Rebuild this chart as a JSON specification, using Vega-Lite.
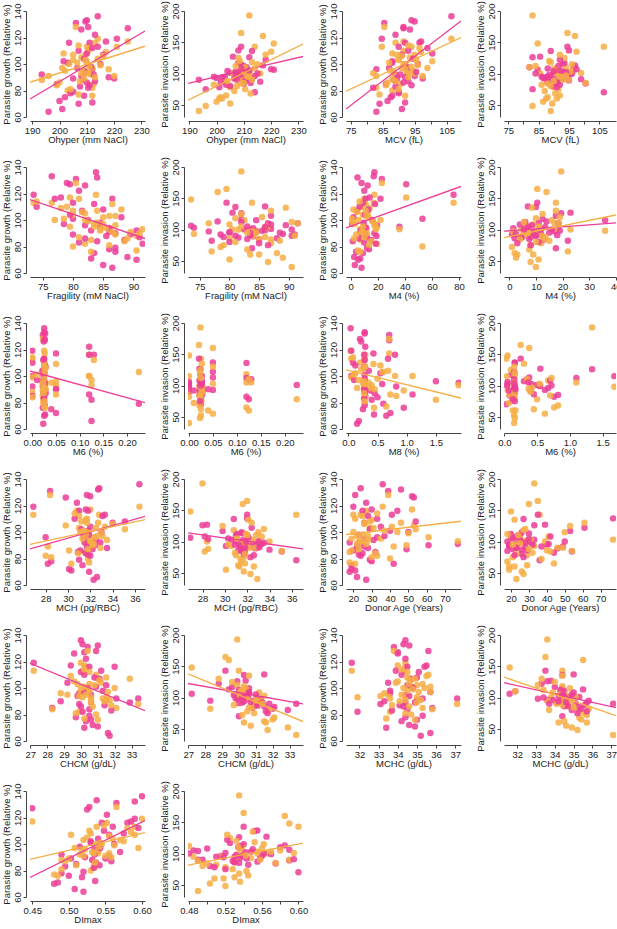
{
  "$schema": "https://vega.github.io/schema/vega-lite/v6.json",
  "padding": {"left": 0, "top": 0, "right": 0, "bottom": 0},
  "config": {
    "view": {"stroke": null},
    "font": "Liberation Sans",
    "circle": {"size": 42, "opacity": 0.85},
    "rule": {"strokeWidth": 1.3},
    "axis": {
      "labelFont": "Liberation Sans", "titleFont": "Liberation Sans",
      "labelFontSize": 9.5, "titleFontSize": 9.5, "titleFontWeight": "normal",
      "labelColor": "#222222", "titleColor": "#222222",
      "domainColor": "#444444", "tickColor": "#444444", "tickSize": 3,
      "grid": false, "offset": 4, "labelFlush": false, "labelOverlap": false
    },
    "axisX": {"labelPadding": 1, "titlePadding": 0},
    "axisY": {"labelAngle": -90, "labelAlign": "center", "labelBaseline": "bottom", "labelPadding": 1, "titlePadding": 1}
  },
  "datasets": {
    "donors": [
      {"oh":214,"mcv":106.5,"fr":83.8,"m4":17.5,"m6":0.025,"m8":0.04,"m8i":0.03,"mch":36.4,"age":36,"chcm":30.0,"mchc":34.4,"di":0.600,"gP":136,"gO":119,"iP":70,"iO":143},
      {"oh":221,"mcv":84.7,"fr":73.5,"m4":76,"m6":0.0,"m8":0.05,"m8i":0.05,"mch":26.9,"age":20,"chcm":27.2,"mchc":31.6,"di":0.590,"gP":119,"gO":113,"iP":106,"iO":148},
      {"oh":225,"mcv":91.5,"fr":79.5,"m4":41,"m6":0.026,"m8":0.70,"m8i":0.60,"mch":32.0,"age":52,"chcm":30.2,"mchc":34.0,"di":0.450,"gP":127,"gO":117,"iP":null,"iO":null},
      {"oh":212,"mcv":83,"fr":82,"m4":19.5,"m6":0.024,"m8":1.5,"m8i":1.34,"mch":28.0,"age":33,"chcm":29.9,"mchc":33.6,"di":0.535,"gP":96,"gO":82,"iP":126,"iO":193},
      {"oh":209,"mcv":93,"fr":84.5,"m4":36,"m6":0.027,"m8":1.89,"m8i":1.68,"mch":31.5,"age":26,"chcm":30.6,"mchc":34.4,"di":0.540,"gP":95,"gO":93,"iP":115,"iO":98},
      {"oh":193.5,"mcv":89,"fr":90.5,"m4":10,"m6":0.0,"m8":0.28,"m8i":0.15,"mch":32.9,"age":23,"chcm":33.4,"mchc":37.1,"di":0.490,"gP":92,"gO":88,"iP":90,"iO":40},
      {"oh":208,"mcv":95,"fr":86,"m4":7,"m6":0.05,"m8":0.28,"m8i":0.16,"mch":32.0,"age":77,"chcm":31.5,"mchc":35.0,"di":0.555,"gP":91,"gO":93,"iP":137,"iO":103},
      {"oh":205,"mcv":90,"fr":87,"m4":12,"m6":0.225,"m8":0.6,"m8i":0.5,"mch":31.0,"age":29,"chcm":30.5,"mchc":35.3,"di":0.520,"gP":79,"gO":103,"iP":101,"iO":78},
      {"oh":203,"mcv":88,"fr":80,"m4":53,"m6":0.023,"m8":0.28,"m8i":0.15,"mch":31.8,"age":40,"chcm":30.9,"mchc":34.7,"di":0.530,"gP":101,"gO":80,"iP":95,"iO":86},
      {"oh":210,"mcv":94,"fr":76.5,"m4":17,"m6":0.025,"m8":0.28,"m8i":0.15,"mch":32.8,"age":24,"chcm":30.1,"mchc":34.3,"di":0.538,"gP":133,"gO":113,"iP":97,"iO":110},
      {"oh":209.5,"mcv":95,"fr":84,"m4":5,"m6":0.027,"m8":0.28,"m8i":0.16,"mch":32.7,"age":46,"chcm":31.0,"mchc":34.6,"di":0.590,"gP":132,"gO":107,"iP":89,"iO":90},
      {"oh":206,"mcv":85.5,"fr":80.5,"m4":23,"m6":0.022,"m8":0.70,"m8i":0.55,"mch":28.4,"age":39,"chcm":30.4,"mchc":33.8,"di":0.565,"gP":131,"gO":128,"iP":127,"iO":100},
      {"oh":210.5,"mcv":91.5,"fr":79,"m4":8,"m6":0.026,"m8":0.20,"m8i":0.12,"mch":31.7,"age":21,"chcm":30.9,"mchc":35.6,"di":0.528,"gP":128,"gO":110,"iP":88,"iO":75},
      {"oh":208,"mcv":93.5,"fr":82,"m4":12.5,"m6":0.024,"m8":0.22,"m8i":0.10,"mch":29.8,"age":53,"chcm":29.6,"mchc":34.0,"di":0.525,"gP":126,"gO":105,"iP":117,"iO":125},
      {"oh":213,"mcv":89,"fr":81,"m4":10,"m6":0.12,"m8":0.29,"m8i":0.16,"mch":30.8,"age":27,"chcm":30.3,"mchc":34.4,"di":0.552,"gP":122,"gO":116,"iP":136,"iO":118},
      {"oh":217,"mcv":97,"fr":78,"m4":14,"m6":0.05,"m8":0.43,"m8i":0.38,"mch":31.6,"age":30,"chcm":29.4,"mchc":35.5,"di":0.585,"gP":117,"gO":109,"iP":113,"iO":160},
      {"oh":203.5,"mcv":92,"fr":77,"m4":22,"m6":0.12,"m8":0.8,"m8i":0.76,"mch":31.8,"age":44,"chcm":32.0,"mchc":35.4,"di":0.545,"gP":116,"gO":100,"iP":82,"iO":65},
      {"oh":211,"mcv":96.5,"fr":86.5,"m4":11,"m6":0.13,"m8":0.27,"m8i":0.15,"mch":31.0,"age":25,"chcm":30.5,"mchc":34.5,"di":0.580,"gP":116,"gO":112,"iP":110,"iO":105},
      {"oh":214,"mcv":90,"fr":80,"m4":9,"m6":0.025,"m8":0.68,"m8i":0.67,"mch":33.3,"age":41,"chcm":31.2,"mchc":33.9,"di":0.560,"gP":113,"gO":104,"iP":96,"iO":108},
      {"oh":212,"mcv":99,"fr":83.5,"m4":18,"m6":0.023,"m8":0.28,"m8i":0.14,"mch":33.1,"age":28,"chcm":30.0,"mchc":35.1,"di":0.595,"gP":112,"gO":97,"iP":91,"iO":101},
      {"oh":207,"mcv":93,"fr":74,"m4":6.5,"m6":0.0,"m8":0.08,"m8i":0.05,"mch":30.6,"age":33,"chcm":30.2,"mchc":34.2,"di":0.548,"gP":110,"gO":114,"iP":103,"iO":93},
      {"oh":210,"mcv":100.5,"fr":85,"m4":13,"m6":0.026,"m8":0.12,"m8i":0.08,"mch":35.1,"age":54,"chcm":30.8,"mchc":35.0,"di":0.575,"gP":108,"gO":102,"iP":84,"iO":85},
      {"oh":216,"mcv":91,"fr":81.5,"m4":4.5,"m6":0.028,"m8":0.28,"m8i":0.15,"mch":34.0,"age":26,"chcm":31.1,"mchc":34.7,"di":0.555,"gP":107,"gO":106,"iP":87,"iO":100},
      {"oh":209,"mcv":94.5,"fr":79.5,"m4":10.5,"m6":0.021,"m8":0.35,"m8i":0.25,"mch":32.0,"age":35,"chcm":29.2,"mchc":33.5,"di":0.540,"gP":104,"gO":95,"iP":143,"iO":165},
      {"oh":201.5,"mcv":88,"fr":88,"m4":2,"m6":0.025,"m8":0.55,"m8i":0.45,"mch":31.2,"age":29,"chcm":31.5,"mchc":34.5,"di":0.530,"gP":102,"gO":108,"iP":86,"iO":62},
      {"oh":215,"mcv":96,"fr":82.5,"m4":16,"m6":0.0,"m8":0.05,"m8i":0.04,"mch":33.0,"age":50,"chcm":30.4,"mchc":34.8,"di":0.562,"gP":100,"gO":99,"iP":100,"iO":115},
      {"oh":211.5,"mcv":92.5,"fr":84.5,"m4":9.5,"m6":0.024,"m8":0.28,"m8i":0.16,"mch":31.9,"age":23,"chcm":31.3,"mchc":33.6,"di":0.515,"gP":98,"gO":92,"iP":96,"iO":95},
      {"oh":206.5,"mcv":87,"fr":78.5,"m4":1,"m6":0.01,"m8":0.1,"m8i":0.07,"mch":31.4,"age":37,"chcm":30.2,"mchc":35.7,"di":0.543,"gP":97,"gO":101,"iP":92,"iO":72},
      {"oh":209.5,"mcv":95.5,"fr":86,"m4":11.5,"m6":0.026,"m8":0.58,"m8i":0.54,"mch":32.5,"age":31,"chcm":29.8,"mchc":34.6,"di":0.570,"gP":94,"gO":103,"iP":99,"iO":103},
      {"oh":212.5,"mcv":90.5,"fr":83,"m4":7.5,"m6":0.022,"m8":0.82,"m8i":0.82,"mch":31.5,"age":18,"chcm":32.1,"mchc":35.3,"di":0.535,"gP":92,"gO":85,"iP":85,"iO":68},
      {"oh":218,"mcv":92,"fr":87,"m4":17.5,"m6":0.05,"m8":0.27,"m8i":0.15,"mch":32.4,"age":61,"chcm":28.8,"mchc":33.3,"di":0.522,"gP":90,"gO":96,"iP":122,"iO":130},
      {"oh":220,"mcv":97.5,"fr":89.5,"m4":8.5,"m6":0.027,"m8":0.38,"m8i":0.30,"mch":32.1,"age":22,"chcm":30.6,"mchc":34.4,"di":0.550,"gP":89,"gO":91,"iP":107,"iO":135},
      {"oh":205,"mcv":89.5,"fr":80,"m4":11,"m6":0.025,"m8":0.29,"m8i":0.15,"mch":31.7,"age":26,"chcm":32.9,"mchc":34.9,"di":0.503,"gP":89,"gO":107,"iP":80,"iO":52},
      {"oh":208.5,"mcv":88.5,"fr":85.5,"m4":19,"m6":0.023,"m8":0.28,"m8i":0.16,"mch":33.5,"age":28,"chcm":29.9,"mchc":33.1,"di":0.532,"gP":88,"gO":94,"iP":98,"iO":120},
      {"oh":213,"mcv":93,"fr":91,"m4":12,"m6":0.028,"m8":0.45,"m8i":0.40,"mch":32.2,"age":49,"chcm":31.4,"mchc":34.1,"di":0.558,"gP":87,"gO":90,"iP":92,"iO":90},
      {"oh":210,"mcv":91.5,"fr":82,"m4":6,"m6":0.12,"m8":1.1,"m8i":1.1,"mch":31.1,"age":20,"chcm":30.0,"mchc":34.3,"di":0.537,"gP":86,"gO":100,"iP":112,"iO":105},
      {"oh":199,"mcv":86,"fr":88.5,"m4":15,"m6":0.0,"m8":0.29,"m8i":0.15,"mch":30.9,"age":32,"chcm":28.3,"mchc":35.8,"di":0.510,"gP":85,"gO":84,"iP":95,"iO":82},
      {"oh":211,"mcv":94,"fr":84,"m4":1.5,"m6":0.025,"m8":0.5,"m8i":0.42,"mch":31.6,"age":25,"chcm":30.5,"mchc":34.5,"di":0.542,"gP":84,"gO":98,"iP":102,"iO":97},
      {"oh":207.5,"mcv":89,"fr":81,"m4":10,"m6":0.024,"m8":0.27,"m8i":0.14,"mch":31.8,"age":23,"chcm":31.8,"mchc":33.7,"di":0.495,"gP":83,"gO":87,"iP":90,"iO":80},
      {"oh":210.5,"mcv":82,"fr":91.5,"m4":18.5,"m6":0.125,"m8":0.4,"m8i":0.35,"mch":32.0,"age":24,"chcm":30.1,"mchc":31.9,"di":0.534,"gP":82,"gO":93,"iP":110,"iO":110},
      {"oh":204,"mcv":90,"fr":86,"m4":13.5,"m6":0.026,"m8":0.28,"m8i":0.15,"mch":28.5,"age":30,"chcm":29.7,"mchc":34.4,"di":0.490,"gP":78,"gO":81,"iP":104,"iO":88},
      {"oh":209,"mcv":88,"fr":87,"m4":4,"m6":0.022,"m8":0.95,"m8i":0.70,"mch":28.2,"age":42,"chcm":30.6,"mchc":35.0,"di":0.500,"gP":76,"gO":89,"iP":108,"iO":84},
      {"oh":202,"mcv":87.5,"fr":83.5,"m4":9,"m6":0.04,"m8":0.25,"m8i":0.17,"mch":31.3,"age":19,"chcm":30.3,"mchc":34.2,"di":0.518,"gP":75,"gO":95,"iP":94,"iO":60},
      {"oh":200,"mcv":86.5,"fr":89,"m4":2.5,"m6":0.05,"m8":0.72,"m8i":0.62,"mch":30.1,"age":19,"chcm":30.7,"mchc":34.6,"di":0.536,"gP":72,"gO":86,"iP":93,"iO":55},
      {"oh":212,"mcv":92,"fr":83,"m4":7,"m6":0.027,"m8":0.44,"m8i":0.37,"mch":30.3,"age":21,"chcm":31.0,"mchc":34.9,"di":0.485,"gP":71,"gO":76,"iP":105,"iO":95},
      {"oh":207,"mcv":84,"fr":90.5,"m4":5.5,"m6":0.025,"m8":0.65,"m8i":0.72,"mch":31.9,"age":18,"chcm":30.2,"mchc":33.4,"di":0.480,"gP":70,"gO":77,"iP":100,"iO":112},
      {"oh":201,"mcv":91,"fr":85,"m4":3,"m6":0.125,"m8":0.18,"m8i":0.13,"mch":32.6,"age":22,"chcm":31.6,"mchc":35.7,"di":0.508,"gP":66,"gO":97,"iP":78,"iO":60},
      {"oh":196,"mcv":83,"fr":86.5,"m4":8,"m6":0.023,"m8":0.15,"m8i":0.16,"mch":32.3,"age":27,"chcm":31.7,"mchc":35.2,"di":0.520,"gP":64,"gO":91,"iP":75,"iO":48}
    ],
    "fits": [
      {"p":"oh_g","grp":"gP","x1":189.2,"y1":73.6,"x2":231.3,"y2":124.9},
      {"p":"oh_g","grp":"gO","x1":189.2,"y1":86.2,"x2":231.3,"y2":113.4},
      {"p":"oh_i","grp":"iP","x1":189.5,"y1":84.2,"x2":231.7,"y2":127.2},
      {"p":"oh_i","grp":"iO","x1":189.5,"y1":57.3,"x2":231.7,"y2":147.2},
      {"p":"mcv_g","grp":"gP","x1":73.5,"y1":66.0,"x2":109.5,"y2":132.5},
      {"p":"mcv_g","grp":"gO","x1":73.5,"y1":79.5,"x2":109.5,"y2":120.0},
      {"p":"fr_g","grp":"gP","x1":72.9,"y1":115.4,"x2":91.9,"y2":86.0},
      {"p":"m4_g","grp":"gP","x1":-3.5,"y1":94.1,"x2":81.5,"y2":125.3},
      {"p":"m4_i","grp":"iP","x1":-2,"y1":97.3,"x2":40.1,"y2":110.6},
      {"p":"m4_i","grp":"iO","x1":-2,"y1":87.0,"x2":40.1,"y2":123.2},
      {"p":"m6_g","grp":"gP","x1":-0.005,"y1":103.8,"x2":0.238,"y2":79.9},
      {"p":"m8_g","grp":"gO","x1":-0.04,"y1":104.6,"x2":1.93,"y2":83.4},
      {"p":"mch_g","grp":"gP","x1":26.6,"y1":87.2,"x2":36.9,"y2":111.8},
      {"p":"mch_g","grp":"gO","x1":26.6,"y1":90.7,"x2":36.9,"y2":109.4},
      {"p":"mch_i","grp":"iP","x1":26.7,"y1":113.9,"x2":37.0,"y2":88.2},
      {"p":"age_g","grp":"gO","x1":16.0,"y1":98.1,"x2":78.7,"y2":108.1},
      {"p":"chcm_g","grp":"gP","x1":26.98,"y1":118.6,"x2":33.8,"y2":82.9},
      {"p":"chcm_i","grp":"iP","x1":26.98,"y1":122.4,"x2":33.8,"y2":89.7},
      {"p":"chcm_i","grp":"iO","x1":26.98,"y1":137.9,"x2":33.8,"y2":61.5},
      {"p":"mchc_i","grp":"iP","x1":31.3,"y1":123.7,"x2":37.25,"y2":83.9},
      {"p":"mchc_i","grp":"iO","x1":31.3,"y1":132.7,"x2":37.25,"y2":70.8},
      {"p":"di_g","grp":"gP","x1":0.447,"y1":74.8,"x2":0.604,"y2":117.7},
      {"p":"di_g","grp":"gO","x1":0.447,"y1":88.4,"x2":0.604,"y2":108.6},
      {"p":"di_i","grp":"iO","x1":0.479,"y1":81.4,"x2":0.605,"y2":116.5}
    ]
  },
  "columns": 4,
  "spacing": {"row": 50, "column": 43},
  "bounds": "flush",
  "concat": [
      {"width":115,"height":106,"layer":[
        {"data":{"name":"donors"},"transform":[{"fold":["gP","gO"],"as":["grp","val"]}],"mark":{"type":"circle","clip":true},
         "encoding":{"x":{"field":"oh","type":"quantitative","scale":{"domain":[189.2,231.3],"nice":false},"axis":{"values":[190,200,210,220,230],"format":"d","tickCount":20,"title":"Ohyper (mm NaCl)"}},
          "y":{"field":"val","type":"quantitative","scale":{"domain":[60,140],"nice":false},"axis":{"values":[60,80,100,120,140],"format":"d","tickCount":20,"title":"Parasite growth (Relative %)"}},
          "color":{"field":"grp","type":"nominal","scale":{"domain":["gP","gO","iP","iO"],"range":["#ec3d97","#f6ae45","#ec3d97","#f6ae45"]},"legend":null}}},
        {"data":{"name":"fits"},"transform":[{"filter":"datum.p == 'oh_g'"}],"mark":{"type":"rule","clip":true},
         "encoding":{"x":{"field":"x1","type":"quantitative"},"x2":{"field":"x2"},"y":{"field":"y1","type":"quantitative"},"y2":{"field":"y2"},"color":{"field":"grp","type":"nominal"}}}]},
      {"width":115,"height":106,"layer":[
        {"data":{"name":"donors"},"transform":[{"fold":["iP","iO"],"as":["grp","val"]}],"mark":{"type":"circle","clip":true},
         "encoding":{"x":{"field":"oh","type":"quantitative","scale":{"domain":[189.5,231.7],"nice":false},"axis":{"values":[190,200,210,220,230],"format":"d","tickCount":20,"title":"Ohyper (mm NaCl)"}},
          "y":{"field":"val","type":"quantitative","scale":{"domain":[30.4,200],"nice":false},"axis":{"values":[50,100,150,200],"format":"d","tickCount":20,"title":"Parasite invasion (Relative %)"}},
          "color":{"field":"grp","type":"nominal","scale":{"domain":["gP","gO","iP","iO"],"range":["#ec3d97","#f6ae45","#ec3d97","#f6ae45"]},"legend":null}}},
        {"data":{"name":"fits"},"transform":[{"filter":"datum.p == 'oh_i'"}],"mark":{"type":"rule","clip":true},
         "encoding":{"x":{"field":"x1","type":"quantitative"},"x2":{"field":"x2"},"y":{"field":"y1","type":"quantitative"},"y2":{"field":"y2"},"color":{"field":"grp","type":"nominal"}}}]},
      {"width":115,"height":106,"layer":[
        {"data":{"name":"donors"},"transform":[{"fold":["gP","gO"],"as":["grp","val"]}],"mark":{"type":"circle","clip":true},
         "encoding":{"x":{"field":"mcv","type":"quantitative","scale":{"domain":[73.5,109.5],"nice":false},"axis":{"values":[75,80,85,90,95,100,105],"format":"d","tickCount":20,"labelExpr":"datum.value % 10 == 5 ? datum.label : ''","title":"MCV (fL)"}},
          "y":{"field":"val","type":"quantitative","scale":{"domain":[60,140],"nice":false},"axis":{"values":[60,80,100,120,140],"format":"d","tickCount":20,"title":"Parasite growth (Relative %)"}},
          "color":{"field":"grp","type":"nominal","scale":{"domain":["gP","gO","iP","iO"],"range":["#ec3d97","#f6ae45","#ec3d97","#f6ae45"]},"legend":null}}},
        {"data":{"name":"fits"},"transform":[{"filter":"datum.p == 'mcv_g'"}],"mark":{"type":"rule","clip":true},
         "encoding":{"x":{"field":"x1","type":"quantitative"},"x2":{"field":"x2"},"y":{"field":"y1","type":"quantitative"},"y2":{"field":"y2"},"color":{"field":"grp","type":"nominal"}}}]},
      {"width":112,"height":106,
       "data":{"name":"donors"},"transform":[{"fold":["iP","iO"],"as":["grp","val"]}],"mark":{"type":"circle","clip":true},
       "encoding":{"x":{"field":"mcv","type":"quantitative","scale":{"domain":[73.6,110.5],"nice":false},"axis":{"values":[75,80,85,90,95,100,105],"format":"d","tickCount":20,"labelExpr":"datum.value % 10 == 5 ? datum.label : ''","title":"MCV (fL)"}},
        "y":{"field":"val","type":"quantitative","scale":{"domain":[30.4,200],"nice":false},"axis":{"values":[50,100,150,200],"format":"d","tickCount":20,"title":"Parasite invasion (Relative %)"}},
        "color":{"field":"grp","type":"nominal","scale":{"domain":["gP","gO","iP","iO"],"range":["#ec3d97","#f6ae45","#ec3d97","#f6ae45"]},"legend":null}}},
      {"width":115,"height":106,"layer":[
        {"data":{"name":"donors"},"transform":[{"fold":["gP","gO"],"as":["grp","val"]}],"mark":{"type":"circle","clip":true},
         "encoding":{"x":{"field":"fr","type":"quantitative","scale":{"domain":[72.9,91.9],"nice":false},"axis":{"values":[75,80,85,90],"format":"d","tickCount":20,"title":"Fragility (mM NaCl)"}},
          "y":{"field":"val","type":"quantitative","scale":{"domain":[60,140],"nice":false},"axis":{"values":[60,80,100,120,140],"format":"d","tickCount":20,"title":"Parasite growth (Relative %)"}},
          "color":{"field":"grp","type":"nominal","scale":{"domain":["gP","gO","iP","iO"],"range":["#ec3d97","#f6ae45","#ec3d97","#f6ae45"]},"legend":null}}},
        {"data":{"name":"fits"},"transform":[{"filter":"datum.p == 'fr_g'"}],"mark":{"type":"rule","clip":true},
         "encoding":{"x":{"field":"x1","type":"quantitative"},"x2":{"field":"x2"},"y":{"field":"y1","type":"quantitative"},"y2":{"field":"y2"},"color":{"field":"grp","type":"nominal"}}}]},
      {"width":115,"height":106,
       "data":{"name":"donors"},"transform":[{"fold":["iP","iO"],"as":["grp","val"]}],"mark":{"type":"circle","clip":true},
       "encoding":{"x":{"field":"fr","type":"quantitative","scale":{"domain":[73.0,92.4],"nice":false},"axis":{"values":[75,80,85,90],"format":"d","tickCount":20,"title":"Fragility (mM NaCl)"}},
        "y":{"field":"val","type":"quantitative","scale":{"domain":[30.4,200],"nice":false},"axis":{"values":[50,100,150,200],"format":"d","tickCount":20,"title":"Parasite invasion (Relative %)"}},
        "color":{"field":"grp","type":"nominal","scale":{"domain":["gP","gO","iP","iO"],"range":["#ec3d97","#f6ae45","#ec3d97","#f6ae45"]},"legend":null}}},
      {"width":115,"height":106,"layer":[
        {"data":{"name":"donors"},"transform":[{"fold":["gP","gO"],"as":["grp","val"]}],"mark":{"type":"circle","clip":true},
         "encoding":{"x":{"field":"m4","type":"quantitative","scale":{"domain":[-3.5,81.5],"nice":false},"axis":{"values":[0,20,40,60,80],"format":"d","tickCount":20,"title":"M4 (%)"}},
          "y":{"field":"val","type":"quantitative","scale":{"domain":[60,140],"nice":false},"axis":{"values":[60,80,100,120,140],"format":"d","tickCount":20,"title":"Parasite growth (Relative %)"}},
          "color":{"field":"grp","type":"nominal","scale":{"domain":["gP","gO","iP","iO"],"range":["#ec3d97","#f6ae45","#ec3d97","#f6ae45"]},"legend":null}}},
        {"data":{"name":"fits"},"transform":[{"filter":"datum.p == 'm4_g'"}],"mark":{"type":"rule","clip":true},
         "encoding":{"x":{"field":"x1","type":"quantitative"},"x2":{"field":"x2"},"y":{"field":"y1","type":"quantitative"},"y2":{"field":"y2"},"color":{"field":"grp","type":"nominal"}}}]},
      {"width":112,"height":106,"layer":[
        {"data":{"name":"donors"},"transform":[{"fold":["iP","iO"],"as":["grp","val"]}],"mark":{"type":"circle","clip":true},
         "encoding":{"x":{"field":"m4","type":"quantitative","scale":{"domain":[-2,40.1],"nice":false},"axis":{"values":[0,10,20,30,40],"format":"d","tickCount":20,"title":"M4 (%)"}},
          "y":{"field":"val","type":"quantitative","scale":{"domain":[30.4,200],"nice":false},"axis":{"values":[50,100,150,200],"format":"d","tickCount":20,"title":"Parasite invasion (Relative %)"}},
          "color":{"field":"grp","type":"nominal","scale":{"domain":["gP","gO","iP","iO"],"range":["#ec3d97","#f6ae45","#ec3d97","#f6ae45"]},"legend":null}}},
        {"data":{"name":"fits"},"transform":[{"filter":"datum.p == 'm4_i'"}],"mark":{"type":"rule","clip":true},
         "encoding":{"x":{"field":"x1","type":"quantitative"},"x2":{"field":"x2"},"y":{"field":"y1","type":"quantitative"},"y2":{"field":"y2"},"color":{"field":"grp","type":"nominal"}}}]},
      {"width":115,"height":106,"layer":[
        {"data":{"name":"donors"},"transform":[{"fold":["gP","gO"],"as":["grp","val"]}],"mark":{"type":"circle","clip":true},
         "encoding":{"x":{"field":"m6","type":"quantitative","scale":{"domain":[-0.005,0.238],"nice":false},"axis":{"values":[0,0.05,0.1,0.15,0.2],"format":".2f","tickCount":20,"title":"M6 (%)"}},
          "y":{"field":"val","type":"quantitative","scale":{"domain":[60,140],"nice":false},"axis":{"values":[60,80,100,120,140],"format":"d","tickCount":20,"title":"Parasite growth (Relative %)"}},
          "color":{"field":"grp","type":"nominal","scale":{"domain":["gP","gO","iP","iO"],"range":["#ec3d97","#f6ae45","#ec3d97","#f6ae45"]},"legend":null}}},
        {"data":{"name":"fits"},"transform":[{"filter":"datum.p == 'm6_g'"}],"mark":{"type":"rule","clip":true},
         "encoding":{"x":{"field":"x1","type":"quantitative"},"x2":{"field":"x2"},"y":{"field":"y1","type":"quantitative"},"y2":{"field":"y2"},"color":{"field":"grp","type":"nominal"}}}]},
      {"width":115,"height":106,
       "data":{"name":"donors"},"transform":[{"fold":["iP","iO"],"as":["grp","val"]}],"mark":{"type":"circle","clip":true},
       "encoding":{"x":{"field":"m6","type":"quantitative","scale":{"domain":[-0.002,0.238],"nice":false},"axis":{"values":[0,0.05,0.1,0.15,0.2],"format":".2f","tickCount":20,"title":"M6 (%)"}},
        "y":{"field":"val","type":"quantitative","scale":{"domain":[30.4,200],"nice":false},"axis":{"values":[50,100,150,200],"format":"d","tickCount":20,"title":"Parasite invasion (Relative %)"}},
        "color":{"field":"grp","type":"nominal","scale":{"domain":["gP","gO","iP","iO"],"range":["#ec3d97","#f6ae45","#ec3d97","#f6ae45"]},"legend":null}}},
      {"width":115,"height":106,"layer":[
        {"data":{"name":"donors"},"transform":[{"fold":["gP","gO"],"as":["grp","val"]}],"mark":{"type":"circle","clip":true},
         "encoding":{"x":{"field":"m8","type":"quantitative","scale":{"domain":[-0.04,1.93],"nice":false},"axis":{"values":[0,0.5,1,1.5],"format":".1f","tickCount":20,"title":"M8 (%)"}},
          "y":{"field":"val","type":"quantitative","scale":{"domain":[60,140],"nice":false},"axis":{"values":[60,80,100,120,140],"format":"d","tickCount":20,"title":"Parasite growth (Relative %)"}},
          "color":{"field":"grp","type":"nominal","scale":{"domain":["gP","gO","iP","iO"],"range":["#ec3d97","#f6ae45","#ec3d97","#f6ae45"]},"legend":null}}},
        {"data":{"name":"fits"},"transform":[{"filter":"datum.p == 'm8_g'"}],"mark":{"type":"rule","clip":true},
         "encoding":{"x":{"field":"x1","type":"quantitative"},"x2":{"field":"x2"},"y":{"field":"y1","type":"quantitative"},"y2":{"field":"y2"},"color":{"field":"grp","type":"nominal"}}}]},
      {"width":112,"height":106,
       "data":{"name":"donors"},"transform":[{"fold":["iP","iO"],"as":["grp","val"]}],"mark":{"type":"circle","clip":true},
       "encoding":{"x":{"field":"m8i","type":"quantitative","scale":{"domain":[-0.005,1.705],"nice":false},"axis":{"values":[0,0.5,1,1.5],"format":".1f","tickCount":20,"title":"M6 (%)"}},
        "y":{"field":"val","type":"quantitative","scale":{"domain":[30.4,200],"nice":false},"axis":{"values":[50,100,150,200],"format":"d","tickCount":20,"title":"Parasite invasion (Relative %)"}},
        "color":{"field":"grp","type":"nominal","scale":{"domain":["gP","gO","iP","iO"],"range":["#ec3d97","#f6ae45","#ec3d97","#f6ae45"]},"legend":null}}},
      {"width":115,"height":106,"layer":[
        {"data":{"name":"donors"},"transform":[{"fold":["gP","gO"],"as":["grp","val"]}],"mark":{"type":"circle","clip":true},
         "encoding":{"x":{"field":"mch","type":"quantitative","scale":{"domain":[26.6,36.9],"nice":false},"axis":{"values":[28,30,32,34,36],"format":"d","tickCount":20,"title":"MCH (pg/RBC)"}},
          "y":{"field":"val","type":"quantitative","scale":{"domain":[60,140],"nice":false},"axis":{"values":[60,80,100,120,140],"format":"d","tickCount":20,"title":"Parasite growth (Relative %)"}},
          "color":{"field":"grp","type":"nominal","scale":{"domain":["gP","gO","iP","iO"],"range":["#ec3d97","#f6ae45","#ec3d97","#f6ae45"]},"legend":null}}},
        {"data":{"name":"fits"},"transform":[{"filter":"datum.p == 'mch_g'"}],"mark":{"type":"rule","clip":true},
         "encoding":{"x":{"field":"x1","type":"quantitative"},"x2":{"field":"x2"},"y":{"field":"y1","type":"quantitative"},"y2":{"field":"y2"},"color":{"field":"grp","type":"nominal"}}}]},
      {"width":115,"height":106,"layer":[
        {"data":{"name":"donors"},"transform":[{"fold":["iP","iO"],"as":["grp","val"]}],"mark":{"type":"circle","clip":true},
         "encoding":{"x":{"field":"mch","type":"quantitative","scale":{"domain":[26.7,37.0],"nice":false},"axis":{"values":[28,30,32,34,36],"format":"d","tickCount":20,"title":"MCH (pg/RBC)"}},
          "y":{"field":"val","type":"quantitative","scale":{"domain":[30.4,200],"nice":false},"axis":{"values":[50,100,150,200],"format":"d","tickCount":20,"title":"Parasite invasion (Relative %)"}},
          "color":{"field":"grp","type":"nominal","scale":{"domain":["gP","gO","iP","iO"],"range":["#ec3d97","#f6ae45","#ec3d97","#f6ae45"]},"legend":null}}},
        {"data":{"name":"fits"},"transform":[{"filter":"datum.p == 'mch_i'"}],"mark":{"type":"rule","clip":true},
         "encoding":{"x":{"field":"x1","type":"quantitative"},"x2":{"field":"x2"},"y":{"field":"y1","type":"quantitative"},"y2":{"field":"y2"},"color":{"field":"grp","type":"nominal"}}}]},
      {"width":115,"height":106,"layer":[
        {"data":{"name":"donors"},"transform":[{"fold":["gP","gO"],"as":["grp","val"]}],"mark":{"type":"circle","clip":true},
         "encoding":{"x":{"field":"age","type":"quantitative","scale":{"domain":[16.0,78.7],"nice":false},"axis":{"values":[20,30,40,50,60,70],"format":"d","tickCount":20,"title":"Donor Age (Years)"}},
          "y":{"field":"val","type":"quantitative","scale":{"domain":[60,140],"nice":false},"axis":{"values":[60,80,100,120,140],"format":"d","tickCount":20,"title":"Parasite growth (Relative %)"}},
          "color":{"field":"grp","type":"nominal","scale":{"domain":["gP","gO","iP","iO"],"range":["#ec3d97","#f6ae45","#ec3d97","#f6ae45"]},"legend":null}}},
        {"data":{"name":"fits"},"transform":[{"filter":"datum.p == 'age_g'"}],"mark":{"type":"rule","clip":true},
         "encoding":{"x":{"field":"x1","type":"quantitative"},"x2":{"field":"x2"},"y":{"field":"y1","type":"quantitative"},"y2":{"field":"y2"},"color":{"field":"grp","type":"nominal"}}}]},
      {"width":112,"height":106,
       "data":{"name":"donors"},"transform":[{"fold":["iP","iO"],"as":["grp","val"]}],"mark":{"type":"circle","clip":true},
       "encoding":{"x":{"field":"age","type":"quantitative","scale":{"domain":[16.1,78.6],"nice":false},"axis":{"values":[20,30,40,50,60,70],"format":"d","tickCount":20,"title":"Donor Age (Years)"}},
        "y":{"field":"val","type":"quantitative","scale":{"domain":[30.4,200],"nice":false},"axis":{"values":[50,100,150,200],"format":"d","tickCount":20,"title":"Parasite invasion (Relative %)"}},
        "color":{"field":"grp","type":"nominal","scale":{"domain":["gP","gO","iP","iO"],"range":["#ec3d97","#f6ae45","#ec3d97","#f6ae45"]},"legend":null}}},
      {"width":115,"height":106,"layer":[
        {"data":{"name":"donors"},"transform":[{"fold":["gP","gO"],"as":["grp","val"]}],"mark":{"type":"circle","clip":true},
         "encoding":{"x":{"field":"chcm","type":"quantitative","scale":{"domain":[26.98,33.8],"nice":false},"axis":{"values":[27,28,29,30,31,32,33],"format":"d","tickCount":20,"title":"CHCM (g/dL)"}},
          "y":{"field":"val","type":"quantitative","scale":{"domain":[60,140],"nice":false},"axis":{"values":[60,80,100,120,140],"format":"d","tickCount":20,"title":"Parasite growth (Relative %)"}},
          "color":{"field":"grp","type":"nominal","scale":{"domain":["gP","gO","iP","iO"],"range":["#ec3d97","#f6ae45","#ec3d97","#f6ae45"]},"legend":null}}},
        {"data":{"name":"fits"},"transform":[{"filter":"datum.p == 'chcm_g'"}],"mark":{"type":"rule","clip":true},
         "encoding":{"x":{"field":"x1","type":"quantitative"},"x2":{"field":"x2"},"y":{"field":"y1","type":"quantitative"},"y2":{"field":"y2"},"color":{"field":"grp","type":"nominal"}}}]},
      {"width":115,"height":106,"layer":[
        {"data":{"name":"donors"},"transform":[{"fold":["iP","iO"],"as":["grp","val"]}],"mark":{"type":"circle","clip":true},
         "encoding":{"x":{"field":"chcm","type":"quantitative","scale":{"domain":[26.98,33.8],"nice":false},"axis":{"values":[27,28,29,30,31,32,33],"format":"d","tickCount":20,"title":"CHCM (g/dL)"}},
          "y":{"field":"val","type":"quantitative","scale":{"domain":[30.4,200],"nice":false},"axis":{"values":[50,100,150,200],"format":"d","tickCount":20,"title":"Parasite invasion (Relative %)"}},
          "color":{"field":"grp","type":"nominal","scale":{"domain":["gP","gO","iP","iO"],"range":["#ec3d97","#f6ae45","#ec3d97","#f6ae45"]},"legend":null}}},
        {"data":{"name":"fits"},"transform":[{"filter":"datum.p == 'chcm_i'"}],"mark":{"type":"rule","clip":true},
         "encoding":{"x":{"field":"x1","type":"quantitative"},"x2":{"field":"x2"},"y":{"field":"y1","type":"quantitative"},"y2":{"field":"y2"},"color":{"field":"grp","type":"nominal"}}}]},
      {"width":115,"height":106,
       "data":{"name":"donors"},"transform":[{"fold":["gP","gO"],"as":["grp","val"]}],"mark":{"type":"circle","clip":true},
       "encoding":{"x":{"field":"mchc","type":"quantitative","scale":{"domain":[31.3,37.3],"nice":false},"axis":{"values":[32,33,34,35,36,37],"format":"d","tickCount":20,"title":"MCHC (g/dL)"}},
        "y":{"field":"val","type":"quantitative","scale":{"domain":[60,140],"nice":false},"axis":{"values":[60,80,100,120,140],"format":"d","tickCount":20,"title":"Parasite growth (Relative %)"}},
        "color":{"field":"grp","type":"nominal","scale":{"domain":["gP","gO","iP","iO"],"range":["#ec3d97","#f6ae45","#ec3d97","#f6ae45"]},"legend":null}}},
      {"width":112,"height":106,"layer":[
        {"data":{"name":"donors"},"transform":[{"fold":["iP","iO"],"as":["grp","val"]}],"mark":{"type":"circle","clip":true},
         "encoding":{"x":{"field":"mchc","type":"quantitative","scale":{"domain":[31.3,37.25],"nice":false},"axis":{"values":[32,33,34,35,36,37],"format":"d","tickCount":20,"title":"MCHC (g/dL)"}},
          "y":{"field":"val","type":"quantitative","scale":{"domain":[30.4,200],"nice":false},"axis":{"values":[50,100,150,200],"format":"d","tickCount":20,"title":"Parasite invasion (Relative %)"}},
          "color":{"field":"grp","type":"nominal","scale":{"domain":["gP","gO","iP","iO"],"range":["#ec3d97","#f6ae45","#ec3d97","#f6ae45"]},"legend":null}}},
        {"data":{"name":"fits"},"transform":[{"filter":"datum.p == 'mchc_i'"}],"mark":{"type":"rule","clip":true},
         "encoding":{"x":{"field":"x1","type":"quantitative"},"x2":{"field":"x2"},"y":{"field":"y1","type":"quantitative"},"y2":{"field":"y2"},"color":{"field":"grp","type":"nominal"}}}]},
      {"width":115,"height":106,"layer":[
        {"data":{"name":"donors"},"transform":[{"fold":["gP","gO"],"as":["grp","val"]}],"mark":{"type":"circle","clip":true},
         "encoding":{"x":{"field":"di","type":"quantitative","scale":{"domain":[0.447,0.604],"nice":false},"axis":{"values":[0.45,0.5,0.55,0.6],"format":".2f","tickCount":20,"title":"DImax"}},
          "y":{"field":"val","type":"quantitative","scale":{"domain":[60,140],"nice":false},"axis":{"values":[60,80,100,120,140],"format":"d","tickCount":20,"title":"Parasite growth (Relative %)"}},
          "color":{"field":"grp","type":"nominal","scale":{"domain":["gP","gO","iP","iO"],"range":["#ec3d97","#f6ae45","#ec3d97","#f6ae45"]},"legend":null}}},
        {"data":{"name":"fits"},"transform":[{"filter":"datum.p == 'di_g'"}],"mark":{"type":"rule","clip":true},
         "encoding":{"x":{"field":"x1","type":"quantitative"},"x2":{"field":"x2"},"y":{"field":"y1","type":"quantitative"},"y2":{"field":"y2"},"color":{"field":"grp","type":"nominal"}}}]},
      {"width":115,"height":106,"layer":[
        {"data":{"name":"donors"},"transform":[{"fold":["iP","iO"],"as":["grp","val"]}],"mark":{"type":"circle","clip":true},
         "encoding":{"x":{"field":"di","type":"quantitative","scale":{"domain":[0.479,0.605],"nice":false},"axis":{"values":[0.48,0.5,0.52,0.54,0.56,0.58,0.6],"format":".2f","tickCount":20,"labelExpr":"indexof(['0.48','0.52','0.56','0.60'], datum.label) >= 0 ? datum.label : ''","title":"DImax"}},
          "y":{"field":"val","type":"quantitative","scale":{"domain":[30.4,200],"nice":false},"axis":{"values":[50,100,150,200],"format":"d","tickCount":20,"title":"Parasite invasion (Relative %)"}},
          "color":{"field":"grp","type":"nominal","scale":{"domain":["gP","gO","iP","iO"],"range":["#ec3d97","#f6ae45","#ec3d97","#f6ae45"]},"legend":null}}},
        {"data":{"name":"fits"},"transform":[{"filter":"datum.p == 'di_i'"}],"mark":{"type":"rule","clip":true},
         "encoding":{"x":{"field":"x1","type":"quantitative"},"x2":{"field":"x2"},"y":{"field":"y1","type":"quantitative"},"y2":{"field":"y2"},"color":{"field":"grp","type":"nominal"}}}]}
  ]
}
